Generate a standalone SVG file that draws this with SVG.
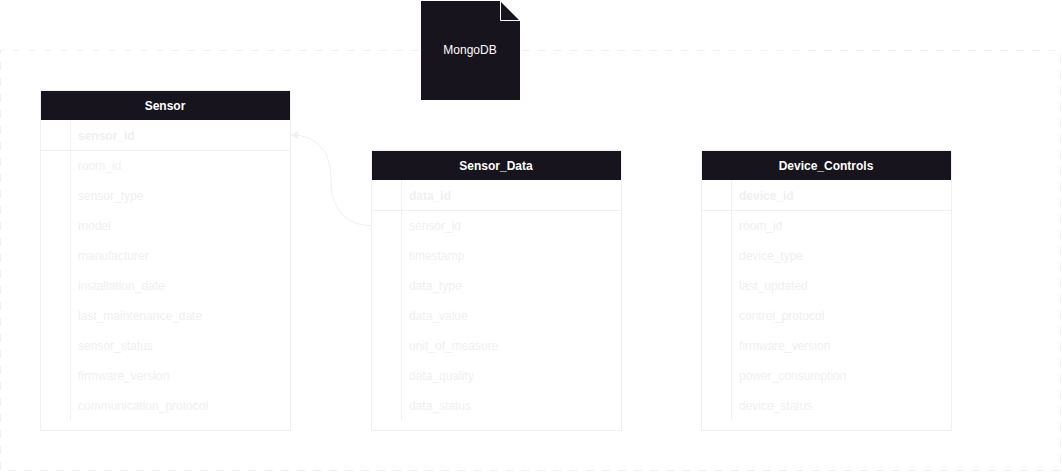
<svg xmlns="http://www.w3.org/2000/svg" width="1062" height="472" viewBox="0 0 1062 472">
<style>
text{font-family:"Liberation Sans",Arial,Helvetica,sans-serif;font-size:12px;fill:#f0f0f0}
.ln{fill:none;stroke:#f0f0f0;stroke-width:1}
.hd{fill:#18141d}
.ht{fill:#fff;font-weight:bold;text-anchor:middle}
.k{font-weight:bold}
</style>
<defs>
<marker id="arr" markerUnits="userSpaceOnUse" markerWidth="10" markerHeight="10" refX="9" refY="5" orient="auto">
<path d="M1 1L9 5L1 9L3 5Z" fill="#f0f0f0"/>
</marker>
</defs>
<g id="frame">
<path class="ln" d="M-3.930 50.500H1060.500" stroke-dasharray="8 7.930"/>
<path class="ln" d="M1060.500 54V470.500" stroke-dasharray="8 8"/>
<path class="ln" d="M8 470.500H1060.500" stroke-dasharray="8 8.060"/>
<path class="ln" d="M0.500 50V470.500" stroke-dasharray="8 8" stroke-dashoffset="4"/>
</g>
<g id="mongodb">
<path class="hd" d="M421 1H500L520 21V100H421Z"/>
<path d="M500.500 1V20.500H520" fill="none" stroke="#fff"/>
<text x="470" y="54" text-anchor="middle" style="fill:#fff">MongoDB</text>
</g>
<g id="sensor">
<rect class="ln" x="40.500" y="90.500" width="250" height="340"/>
<rect class="hd" x="41" y="91" width="249" height="29"/>
<text class="ht" x="165" y="110">Sensor</text>
<path class="ln" d="M40.500 150.500H290.500M70.500 120V420"/>
<text class="k" x="78" y="140">sensor_id</text>
<text x="78" y="170">room_id</text>
<text x="78" y="200">sensor_type</text>
<text x="78" y="230">model</text>
<text x="78" y="260">manufacturer</text>
<text x="78" y="290">installation_date</text>
<text x="78" y="320">last_maintenance_date</text>
<text x="78" y="350">sensor_status</text>
<text x="78" y="380">firmware_version</text>
<text x="78" y="410">communication_protocol</text>
</g>
<g id="sensor_data">
<rect class="ln" x="371.500" y="150.500" width="250" height="280"/>
<rect class="hd" x="372" y="151" width="249" height="29"/>
<text class="ht" x="496" y="170">Sensor_Data</text>
<path class="ln" d="M371.500 210.500H621.500M401.500 180V420"/>
<text class="k" x="409" y="200">data_id</text>
<text x="409" y="230">sensor_id</text>
<text x="409" y="260">timestamp</text>
<text x="409" y="290">data_type</text>
<text x="409" y="320">data_value</text>
<text x="409" y="350">unit_of_measure</text>
<text x="409" y="380">data_quality</text>
<text x="409" y="410">data_status</text>
</g>
<g id="device_controls">
<rect class="ln" x="701.500" y="150.500" width="250" height="280"/>
<rect class="hd" x="702" y="151" width="249" height="29"/>
<text class="ht" x="826" y="170">Device_Controls</text>
<path class="ln" d="M701.500 210.500H951.500M731.500 180V420"/>
<text class="k" x="739" y="200">device_id</text>
<text x="739" y="230">room_id</text>
<text x="739" y="260">device_type</text>
<text x="739" y="290">last_updated</text>
<text x="739" y="320">control_protocol</text>
<text x="739" y="350">firmware_version</text>
<text x="739" y="380">power_consumption</text>
<text x="739" y="410">device_status</text>
</g>
<g id="connectors">
<path class="ln" d="M371 225.500C345 225.500 331 208 331 180C331 152 318 135 291 135" marker-end="url(#arr)"/>
</g>
</svg>
